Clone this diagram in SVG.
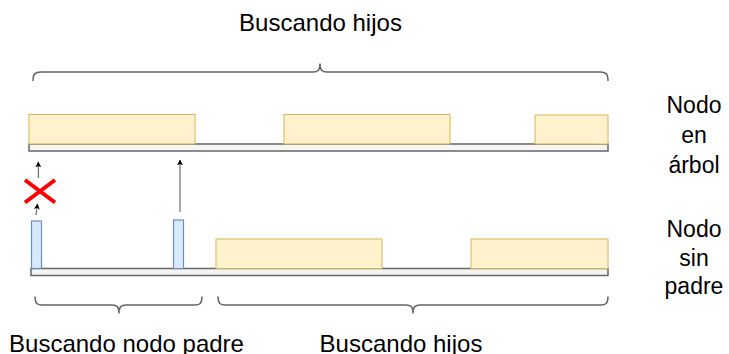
<svg xmlns="http://www.w3.org/2000/svg" width="729" height="354" viewBox="0 0 729 354">
<defs>
<marker id="ah" viewBox="0 0 10 10" refX="9" refY="5" markerWidth="6" markerHeight="6" markerUnits="userSpaceOnUse" orient="auto">
<path d="M0,0 L10,5 L0,10 L2.5,5 Z" fill="#000"/>
</marker>
</defs>
<style>
.bar{fill:#f5f5f5;stroke:#666;stroke-width:1.5}
.y{fill:#fff2cc;stroke:#d6b656;stroke-width:1}
.b{fill:#dae8fc;stroke:#6c8ebf;stroke-width:1.2}
.br{fill:none;stroke:#666;stroke-width:1.5}
.ar{fill:none;stroke:#777;stroke-width:1.3}
.t{font-family:"Liberation Sans",Arial,sans-serif;font-size:24px;fill:#000;text-anchor:middle}
.t2{font-family:"Liberation Sans",Arial,sans-serif;font-size:23px;fill:#000;text-anchor:middle}
</style>
<rect width="729" height="354" fill="#fff"/>
<g id="title-top"><text class="t" x="320.5" y="31">Buscando hijos</text></g>
<g id="brace-top"><path class="br" d="M33,81 C33,74 35,72 41,72 L313,72 C318,72 320,70 320,63.5 C320,70 322,72 327,72 L600,72 C606,72 608,74 608,81"/></g>
<g id="bar-top"><rect class="bar" x="29" y="144" width="579" height="7"/></g>
<g id="y1"><rect class="y" x="29" y="114.5" width="166" height="29.5"/></g>
<g id="y2"><rect class="y" x="284" y="114.5" width="166" height="29.5"/></g>
<g id="y3"><rect class="y" x="535" y="115" width="73" height="29"/></g>
<g id="label-arbol"><text class="t2" x="694" y="113">Nodo</text><text class="t2" x="694" y="143">en</text><text class="t2" x="694" y="173">árbol</text></g>
<g id="bar-bottom"><rect class="bar" x="31" y="268.5" width="577" height="7"/></g>
<g id="b1"><rect class="b" x="31.5" y="221" width="10" height="47.5"/></g>
<g id="b2"><rect class="b" x="173.5" y="220" width="10" height="48.5"/></g>
<g id="y4"><rect class="y" x="216" y="239" width="166" height="29.5"/></g>
<g id="y5"><rect class="y" x="471" y="239" width="137" height="29.5"/></g>
<g id="label-sinpadre"><text class="t2" x="694" y="237">Nodo</text><text class="t2" x="694" y="266">sin</text><text class="t2" x="694" y="294">padre</text></g>
<g id="braces-bottom">
<path class="br" d="M35,296.5 C35,303 37,305 42,305 L112,305 C117,305 119,307 119,313.5 C119,307 121,305 126,305 L195,305 C200,305 202,303 202,296.5"/>
<path class="br" d="M218,296.5 C218,303 220,305 225,305 L406,305 C411,305 413,307 413,313.5 C413,307 415,305 420,305 L601,305 C606,305 608,303 608,296.5"/>
</g>
<g id="label-padre"><text class="t" x="126.5" y="352">Buscando nodo padre</text></g>
<g id="label-hijos-bottom"><text class="t" x="401" y="352">Buscando hijos</text></g>
<g id="connectors">
<line class="ar" x1="180" y1="212" x2="180" y2="160" marker-end="url(#ah)"/>
<line class="ar" x1="38.5" y1="178" x2="38.3" y2="162" marker-end="url(#ah)"/>
<line class="ar" x1="36" y1="215" x2="37.5" y2="204" marker-end="url(#ah)"/>
</g>
<g id="cross">
<line x1="25" y1="180" x2="55" y2="202.5" stroke="#ff0000" stroke-width="4"/>
<line x1="55" y1="180" x2="25" y2="202.5" stroke="#ff0000" stroke-width="4"/>
</g>
</svg>
